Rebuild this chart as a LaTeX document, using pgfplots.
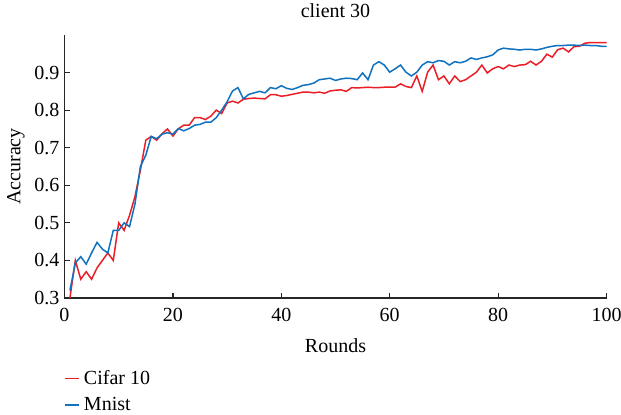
\documentclass[border=0pt]{standalone}
\usepackage{pgfplots}
\pgfplotsset{compat=1.18}
\usepackage{pgfplotstable}
\usepackage{fontspec}
\setmainfont{Liberation Serif}
\definecolor{cred}{RGB}{235,30,40}
\definecolor{cblue}{RGB}{16,114,190}
\pgfplotstableread{
r v
1 0.30
2 0.40
3 0.35
4 0.37
5 0.35
6 0.38
7 0.40
8 0.42
9 0.40
10 0.50
11 0.48
12 0.52
13 0.57
14 0.64
15 0.72
16 0.73
17 0.72
18 0.737
19 0.75
20 0.731
21 0.75
22 0.76
23 0.76
24 0.78
25 0.78
26 0.775
27 0.784
28 0.80
29 0.791
30 0.819
31 0.824
32 0.819
33 0.829
34 0.831
35 0.832
36 0.831
37 0.830
38 0.841
39 0.841
40 0.837
41 0.839
42 0.842
43 0.845
44 0.848
45 0.848
46 0.846
47 0.848
48 0.845
49 0.851
50 0.853
51 0.854
52 0.850
53 0.860
54 0.859
55 0.860
56 0.861
57 0.860
58 0.860
59 0.861
60 0.861
61 0.861
62 0.870
63 0.863
64 0.860
65 0.891
66 0.850
67 0.901
68 0.920
69 0.881
70 0.891
71 0.870
72 0.891
73 0.876
74 0.881
75 0.891
76 0.901
77 0.920
78 0.899
79 0.910
80 0.916
81 0.910
82 0.920
83 0.916
84 0.920
85 0.921
86 0.930
87 0.920
88 0.930
89 0.949
90 0.941
91 0.961
92 0.965
93 0.955
94 0.969
95 0.970
96 0.978
97 0.980
98 0.980
99 0.980
100 0.980
}\cifar
\pgfplotstableread{
r v
1 0.32
2 0.393
3 0.41
4 0.39
5 0.42
6 0.448
7 0.43
8 0.42
9 0.48
10 0.48
11 0.50
12 0.49
13 0.55
14 0.65
15 0.68
16 0.73
17 0.724
18 0.736
19 0.74
20 0.736
21 0.751
22 0.745
23 0.751
24 0.760
25 0.762
26 0.768
27 0.768
28 0.780
29 0.800
30 0.822
31 0.851
32 0.860
33 0.830
34 0.842
35 0.846
36 0.850
37 0.846
38 0.860
39 0.857
40 0.865
41 0.858
42 0.855
43 0.860
44 0.866
45 0.868
46 0.872
47 0.881
48 0.883
49 0.885
50 0.879
51 0.883
52 0.885
53 0.884
54 0.881
55 0.899
56 0.881
57 0.920
58 0.929
59 0.920
60 0.901
61 0.910
62 0.920
63 0.901
64 0.891
65 0.901
66 0.920
67 0.929
68 0.926
69 0.932
70 0.930
71 0.920
72 0.929
73 0.926
74 0.930
75 0.939
76 0.935
77 0.939
78 0.942
79 0.947
80 0.960
81 0.965
82 0.963
83 0.962
84 0.960
85 0.962
86 0.962
87 0.960
88 0.963
89 0.967
90 0.970
91 0.972
92 0.972
93 0.973
94 0.973
95 0.972
96 0.973
97 0.972
98 0.972
99 0.970
100 0.970
}\mnist
\begin{document}
\fontsize{10}{12}\selectfont
\begin{tikzpicture}
\path[use as bounding box] (-32.25pt,-58.5pt) rectangle (278.25pt,149pt);
\begin{axis}[
  at={(0,0)}, anchor=south west,
  scale only axis, width=271pt, height=131.5pt,
  xmin=0, xmax=100, ymin=0.3, ymax=1.0,
  axis x line*=bottom, axis y line*=left,
  axis line style={black!85, line width=0.6pt},
  tick align=inside, major tick length=2.5pt,
  tick style={black!85, line width=0.6pt},
  xtick={0,20,40,60,80,100},
  ytick={0.3,0.4,0.5,0.6,0.7,0.8,0.9},
  /pgf/number format/assume math mode=true,
  tick label style={font=\rmfamily\fontsize{10}{12}\selectfont},
  yticklabel style={/pgf/number format/fixed, /pgf/number format/precision=1, xshift=1pt},
  xticklabel style={yshift=-1.5pt},
  title={client 30},
  title style={yshift=-1pt, font=\rmfamily},
  xlabel={Rounds}, ylabel={Accuracy},
  xlabel style={yshift=-1.5pt, font=\rmfamily},
  ylabel style={yshift=-2pt, font=\rmfamily},
  legend style={draw=none, fill=none, at={(-0.012,-0.242)}, anchor=north west,
    legend cell align=left, row sep=1pt, font=\fontsize{10}{12}\selectfont},
  legend image code/.code={\draw[#1, line width=0.8pt] (0pt,0pt) -- (7pt,0pt);},
]
\addplot[cred, line width=0.75pt] table[x=r, y=v] {\cifar};
\addlegendentry{Cifar 10}
\addplot[cblue, line width=0.75pt] table[x=r, y=v] {\mnist};
\addlegendentry{Mnist}
\end{axis}
\end{tikzpicture}
\end{document}
